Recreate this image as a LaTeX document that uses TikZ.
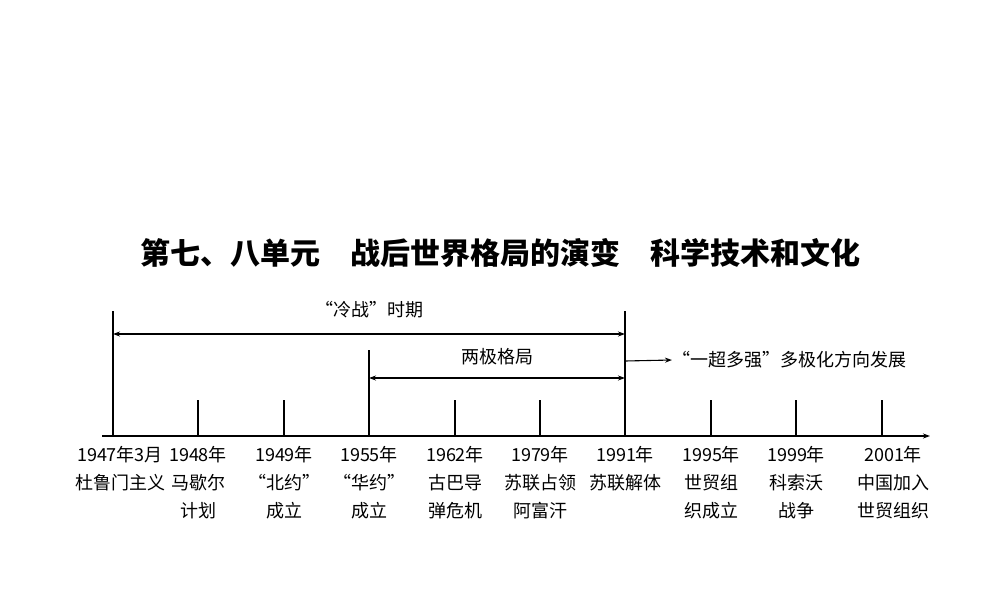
\documentclass[tikz,border=0pt]{standalone}
\usepackage{fontspec}
\setmainfont{Noto Sans CJK SC}
\usetikzlibrary{arrows.meta}
\begin{document}
\begin{tikzpicture}[x=1pt,y=-1pt,
  lab/.style={font=\fontsize{18}{28}\selectfont,align=center,anchor=north,inner sep=0pt},
  ln/.style={line width=1.1pt},
  arr/.style={ln,-{Stealth[length=7pt,width=5pt]}}]
\useasboundingbox (0,0) rectangle (1000,600);
\node[font=\fontsize{30}{36}\bfseries\selectfont] (title) at (500,253) {第七、八单元\quad 战后世界格局的演变\quad 科学技术和文化};
\coordinate (a0) at (102,436); \coordinate (a1) at (930,436);
\draw[arr] (a0) -- (a1);
\foreach \n/\x/\t in {t1/113/311,t2/198/400,t3/284/400,t4/369/350,t5/455/400,t6/540/400,t7/625/311,t8/711/400,t9/796/400,t10/882/400}{
  \coordinate (\n b) at (\x,436); \coordinate (\n) at (\x,\t);
  \draw[ln] (\n b) -- (\n);
}
\coordinate (cw1) at (113,334); \coordinate (cw2) at (625,334);
\draw[arr,{Stealth[length=7pt,width=5pt]}-{Stealth[length=7pt,width=5pt]}] (cw2) -- (cw1);
\coordinate (tp1) at (369,378); \coordinate (tp2) at (625,378);
\draw[arr,{Stealth[length=7pt,width=5pt]}-{Stealth[length=7pt,width=5pt]}] (tp2) -- (tp1);
\coordinate (m0) at (625,361);
\node[font=\fontsize{18}{22}\selectfont,anchor=west,inner sep=0pt] (multi) at (672,360) {“一超多强”多极化方向发展};
\draw[arr] (m0) -- (multi.west);
\node[font=\fontsize{18}{22}\selectfont] (cwl) at (369,310) {“冷战”时期};
\node[font=\fontsize{18}{22}\selectfont] (tpl) at (497,357) {两极格局};
\node[lab] (l1) at (120,446) {1947年3月\\杜鲁门主义};
\node[lab] (l2) at (198,446) {1948年\\马歇尔\\计划};
\node[lab] (l3) at (284,446) {1949年\\“北约”\\成立};
\node[lab] (l4) at (369,446) {1955年\\“华约”\\成立};
\node[lab] (l5) at (455,446) {1962年\\古巴导\\弹危机};
\node[lab] (l6) at (540,446) {1979年\\苏联占领\\阿富汗};
\node[lab] (l7) at (625,446) {1991年\\苏联解体};
\node[lab] (l8) at (711,446) {1995年\\世贸组\\织成立};
\node[lab] (l9) at (796,446) {1999年\\科索沃\\战争};
\node[lab] (l10) at (893,446) {2001年\\中国加入\\世贸组织};
\end{tikzpicture}
\end{document}
